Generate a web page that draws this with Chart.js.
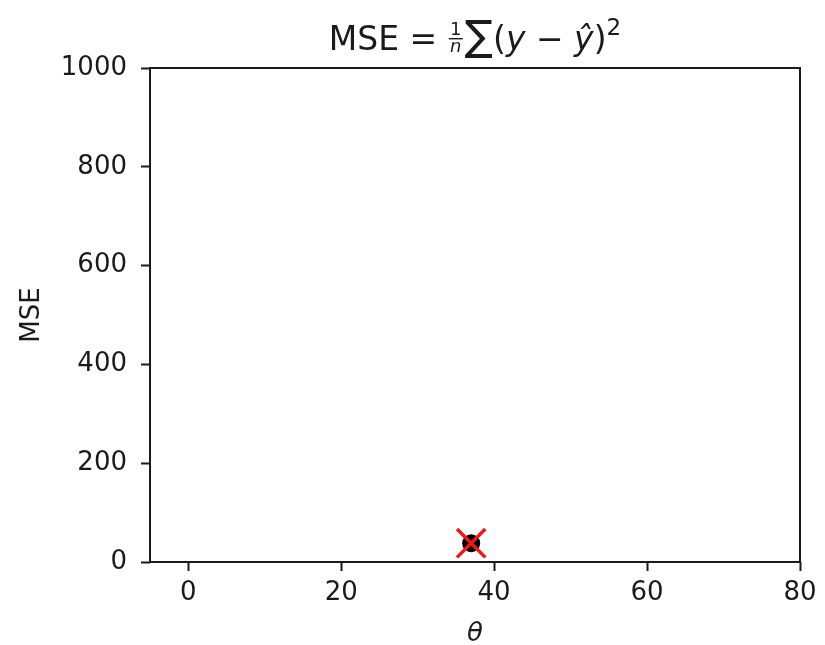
<!DOCTYPE html>
<html>
<head>
<meta charset="utf-8">
<script src="https://cdn.jsdelivr.net/npm/chart.js@4"></script>
<style>
  html, body { margin: 0; padding: 0; background: #fff; }
  #wrap { width: 825px; height: 645px; }
</style>
</head>
<body>
<div id="wrap"><canvas id="mseChart" width="825" height="645"></canvas></div>
<script>
"use strict";

// data
var thetaValues = [37];
var mseValues = [38];
var xTickValues = [0, 20, 40, 60, 80];
var yTickValues = [0, 200, 400, 600, 800, 1000];

var fontFamily = "'DejaVu Sans', sans-serif";
var inkColor = '#1a1a1a';

function toPoints(xs, ys) {
    return xs.map(function (x, i) { return { x: x, y: ys[i] }; });
}

// frame around the plot area (matplotlib style spines)
var framePlugin = {
    id: 'frame',
    beforeDatasetsDraw: function (chart) {
        var a = chart.chartArea, ctx = chart.ctx;
        ctx.save();
        ctx.strokeStyle = inkColor;
        ctx.lineWidth = 2;
        ctx.strokeRect(a.left, a.top, a.right - a.left, a.bottom - a.top);
        ctx.restore();
    }
};

// title with a small 1/n fraction
var titlePlugin = {
    id: 'mathTitle',
    afterDraw: function (chart) {
        var ctx = chart.ctx;
        var a = chart.chartArea;
        var cx = (a.left + a.right) / 2;
        var base = 50;
        var big = '33px ' + fontFamily;
        var it = 'italic 33px ' + fontFamily;

        var parts = [
            { t: 'MSE = ', f: big },
            { frac: true, w: 14 },
            { t: '\u2211', f: '42px ' + fontFamily },
            { t: '(', f: big },
            { t: 'y', f: it },
            { t: ' \u2212 ', f: big },
            { t: 'y\u0302', f: it },
            { t: ')', f: big },
            { t: '2', f: '23px ' + fontFamily, sup: true }
        ];
        ctx.save();
        ctx.fillStyle = inkColor;
        ctx.textBaseline = 'alphabetic';
        var total = 0;
        parts.forEach(function (p) {
            if (p.frac) { total += p.w + 3; return; }
            ctx.font = p.f;
            p.w = ctx.measureText(p.t).width;
            total += p.w;
        });
        var x = cx - total / 2;
        parts.forEach(function (p) {
            if (p.frac) {
                ctx.textAlign = 'center';
                ctx.font = '18px ' + fontFamily;
                ctx.fillText('1', x + p.w / 2 + 1, base - 15);
                ctx.font = 'italic 18px ' + fontFamily;
                ctx.fillText('n', x + p.w / 2 + 1, base + 2);
                ctx.fillRect(x + 1, base - 12, p.w, 1.4);
                ctx.textAlign = 'left';
                x += p.w + 3;
                return;
            }
            ctx.font = p.f;
            ctx.textAlign = 'left';
            ctx.fillText(p.t, x, p.sup ? base - 15 : base);
            x += p.w;
        });
        ctx.restore();
    }
};

var ctx = document.getElementById('mseChart');
var mseChart = new Chart(ctx, {
    type: 'scatter',
    data: {
        datasets: [{
            label: 'minimum',
            data: toPoints(thetaValues, mseValues),
            pointStyle: 'crossRot',
            pointRadius: 20,
            borderColor: 'rgb(235, 25, 25)',
            borderWidth: 3.5,
            order: 1
        }, {
            label: 'MSE',
            data: toPoints(thetaValues, mseValues),
            pointStyle: 'circle',
            pointRadius: 9,
            backgroundColor: '#000',
            borderColor: '#000',
            borderWidth: 0,
            order: 2
        }]
    },
    options: {
        responsive: false,
        animation: false,
        events: [],
        layout: { padding: { top: 68, right: 25, left: 0, bottom: 0 } },
        plugins: {
            legend: { display: false },
            tooltip: { enabled: false }
        },
        scales: {
            x: {
                type: 'linear',
                min: -5,
                max: 80,
                afterBuildTicks: function (scale) {
                    scale.ticks = xTickValues.map(function (v) { return { value: v }; });
                },
                afterFit: function (scale) { scale.height = 83; },
                grid: {
                    drawOnChartArea: false,
                    drawTicks: true,
                    tickLength: 9,
                    tickWidth: 2,
                    tickColor: inkColor
                },
                border: { display: false },
                ticks: {
                    color: inkColor,
                    padding: 7,
                    font: { family: fontFamily, size: 26 },
                    maxRotation: 0,
                    callback: function (v) { return String(v); }
                },
                title: {
                    display: true,
                    text: '\u03b8',
                    color: inkColor,
                    padding: { top: 0, bottom: -2 },
                    font: { family: fontFamily, size: 26, style: 'italic', lineHeight: 1 }
                }
            },
            y: {
                type: 'linear',
                min: 0,
                max: 1000,
                afterBuildTicks: function (scale) {
                    scale.ticks = yTickValues.map(function (v) { return { value: v }; });
                },
                afterFit: function (scale) { scale.width = 150; },
                grid: {
                    drawOnChartArea: false,
                    drawTicks: true,
                    tickLength: 9,
                    tickWidth: 2,
                    tickColor: inkColor
                },
                border: { display: false },
                ticks: {
                    color: inkColor,
                    padding: 14,
                    font: { family: fontFamily, size: 26 },
                    callback: function (v) { return String(v); }
                },
                title: {
                    display: true,
                    text: 'MSE',
                    color: inkColor,
                    padding: { top: 19, bottom: 0 },
                    font: { family: fontFamily, size: 26, lineHeight: 1 }
                }
            }
        }
    },
    plugins: [framePlugin, titlePlugin]
});
</script>
</body>
</html>
